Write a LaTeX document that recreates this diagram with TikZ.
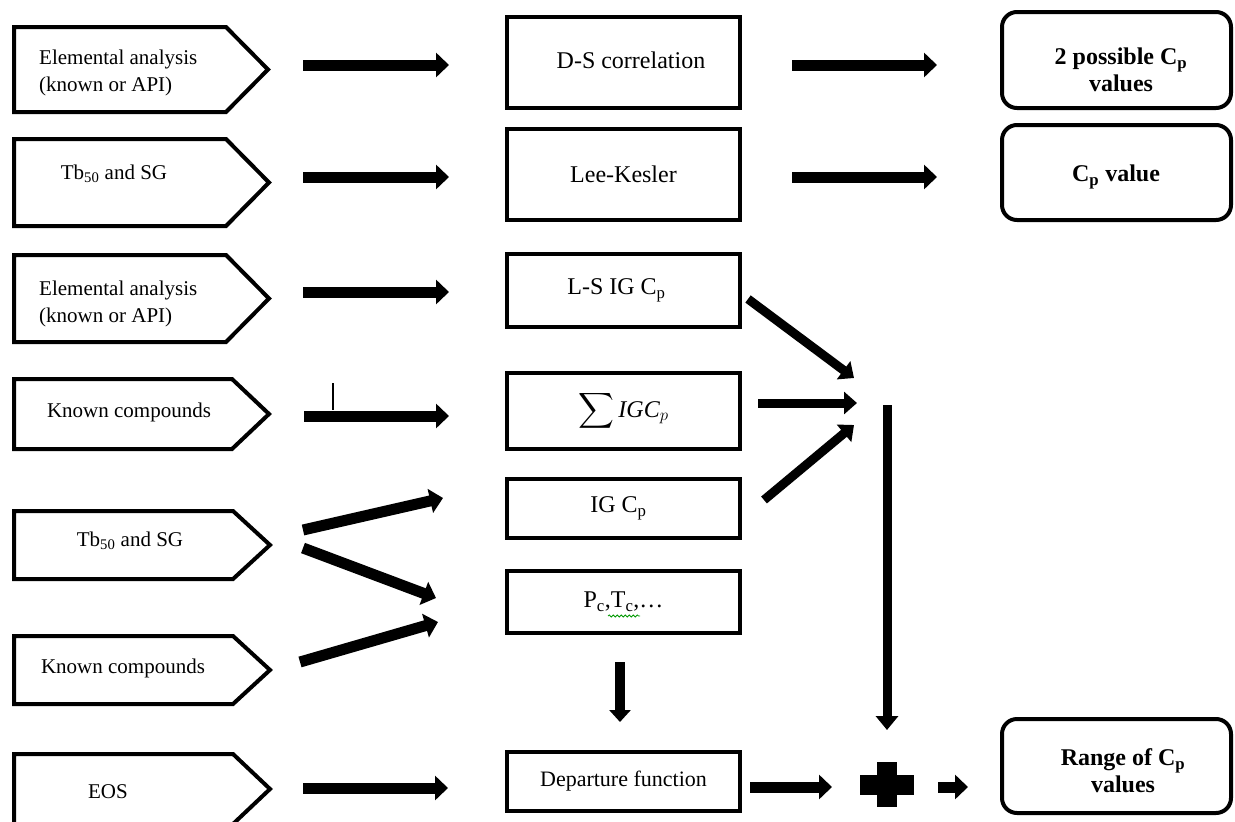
\RequirePackage{fix-cm}
\documentclass[tikz,border=0pt]{standalone}
\usepackage{amsmath}
\usepackage{fontspec}
\setmainfont{Liberation Serif}
\usetikzlibrary{arrows.meta,decorations.pathmorphing}
\begin{document}
\begin{tikzpicture}[x=1pt,y=-1pt,
 pent/.style={line width=4pt, line join=miter},
 ltxt/.style={font=\fontsize{21}{27}\selectfont, align=left, inner sep=0},
 mbox/.style={draw, line width=4pt, minimum width=233pt, inner sep=0, font=\fontsize{24}{28}\selectfont},
 rbox/.style={draw, line width=4pt, rounded corners=15pt, minimum width=229pt, inner sep=0},
 rtxt/.style={inner sep=0, align=center, font=\bfseries\fontsize{24}{27}\selectfont},
 fat/.style={line width=11pt, -{Triangle[length=13pt,width=24pt]}},
 mid/.style={line width=9pt, -{Triangle[length=13pt,width=22pt]}},
]
\useasboundingbox[fill=white] (0,0) rectangle (1235,822);

% left pentagons
\draw[pent] (14,27) -- (226,27) -- (268,69.5) -- (226,112) -- (14,112) -- cycle;
\draw[pent] (14,139) -- (226,139) -- (269,182.5) -- (226,226) -- (14,226) -- cycle;
\draw[pent] (14,255) -- (226,255) -- (269,298.5) -- (226,342) -- (14,342) -- cycle;
\draw[pent] (14,379) -- (232,379) -- (269,414) -- (232,449) -- (14,449) -- cycle;
\draw[pent] (14,511) -- (233,511) -- (270,545) -- (233,579) -- (14,579) -- cycle;
\draw[pent] (14,636) -- (233,636) -- (270,670) -- (233,704) -- (14,704) -- cycle;
\draw[pent] (14,754) -- (233,754) -- (270,789) -- (233,824) -- (14,824) -- cycle;

\node[ltxt, anchor=west] (t1) at (39,73) {Elemental analysis\\(known or API)};
\node[ltxt] (t2) at (114,174) {Tb\textsubscript{50} and SG};
\node[ltxt, anchor=west] (t3) at (39,304) {Elemental analysis\\(known or API)};
\node[ltxt] (t4) at (129,412) {Known compounds};
\node[ltxt] (t5) at (130,541) {Tb\textsubscript{50} and SG};
\node[ltxt] (t6) at (123,668) {Known compounds};
\node[ltxt] (t7) at (108,792) {EOS};

% middle boxes
\node[mbox, minimum height=91pt] (ds) at (623.5,62.5) {\hspace{15pt}\raisebox{4pt}{D-S correlation}};
\node[mbox, minimum height=91pt] (lk) at (623.5,174.5) {\raisebox{1pt}{Lee-Kesler}};
\node[mbox, minimum height=73pt] (ls) at (623.5,290.5) {\hspace{-14pt}L-S IG C\textsubscript{p}};
\node[mbox, minimum height=76pt] (sum) at (623.5,411) {$\displaystyle\sum \mathit{IGC}_p$};
\node[mbox, minimum height=59pt] (ig) at (623.5,508.5) {\hspace{-10pt}\raisebox{-3pt}{IG C\textsubscript{p}}};
\node[mbox, minimum height=62pt] (pc) at (623.5,602) {\raisebox{-1pt}{P\textsubscript{c},T\textsubscript{c},\ldots}};
\node[mbox, minimum height=59pt, font=\fontsize{22}{26}\selectfont] (dep) at (623.5,781.5) {\raisebox{2pt}{Departure function}};

% right boxes
\node[rbox, minimum height=96pt] (r1) at (1116.5,60) {};
\node[rtxt] (r1t) at (1121,70) {2 possible C\textsubscript{p}\\values};
\node[rbox, minimum height=95pt] (r2) at (1116.5,172.5) {};
\node[rtxt] (r2t) at (1116,177) {C\textsubscript{p} value};
\node[rbox, minimum height=94pt] (r3) at (1116.5,766) {};
\node[rtxt] (r3t) at (1123,771) {Range of C\textsubscript{p}\\values};

% plus sign
\node[minimum width=54pt, minimum height=45pt, inner sep=0] (plus) at (887,784.5) {};
\fill (860,775) rectangle (914,795);
\fill (877,762) rectangle (897,807);

% arrow end points
\coordinate (a1s) at (303,65);  \coordinate (a1e) at (449,65);
\coordinate (a2s) at (303,177); \coordinate (a2e) at (449,177);
\coordinate (a3s) at (303,292); \coordinate (a3e) at (449,292);
\coordinate (a4s) at (304,416); \coordinate (a4e) at (449,416);
\coordinate (a5s) at (303,530); \coordinate (a5e) at (443,498);
\coordinate (a6s) at (303,548); \coordinate (a6e) at (436,598);
\coordinate (a7s) at (300,662); \coordinate (a7e) at (438,622);
\coordinate (a8s) at (303,788); \coordinate (a8e) at (448,788);
\coordinate (b1s) at (792,65);  \coordinate (b1e) at (937,65);
\coordinate (b2s) at (792,177); \coordinate (b2e) at (937,177);
\coordinate (c1s) at (748,299); \coordinate (c1e) at (854,378);
\coordinate (c2s) at (758,403); \coordinate (c2e) at (857,403);
\coordinate (c3s) at (764,500); \coordinate (c3e) at (854,425);
\coordinate (vs) at (887,405);  \coordinate (ve) at (887,730);
\coordinate (ds1) at (620,662); \coordinate (de1) at (620,722);
\coordinate (es) at (750,787);  \coordinate (ee) at (832,787);
\coordinate (fs) at (938,787);  \coordinate (fe) at (968,787);

\draw[fat] (a1s) -- (a1e);
\draw[fat] (a2s) -- (a2e);
\draw[fat] (a3s) -- (a3e);
\draw[fat] (a4s) -- (a4e);
\draw[fat] (a5s) -- (a5e);
\draw[fat] (a6s) -- (a6e);
\draw[fat] (a7s) -- (a7e);
\draw[fat] (a8s) -- (a8e);
\draw[fat] (b1s) -- (b1e);
\draw[fat] (b2s) -- (b2e);
\draw[mid] (c1s) -- (c1e);
\draw[mid] (c2s) -- (c2e);
\draw[mid] (c3s) -- (c3e);
\draw[line width=9pt, -{Triangle[length=14pt,width=22pt]}] (vs) -- (ve);
\draw[line width=10pt, -{Triangle[length=12pt,width=21pt]}] (ds1) -- (de1);
\draw[fat] (es) -- (ee);
\draw[fat] (fs) -- (fe);

% small artifacts
\draw[line width=1.5pt] (333,383) -- (333,410);
\draw[green!60!black, line width=0.8pt, decorate, decoration={snake, amplitude=1pt, segment length=4pt}] (608,616) -- (640,616);
\end{tikzpicture}
\end{document}
